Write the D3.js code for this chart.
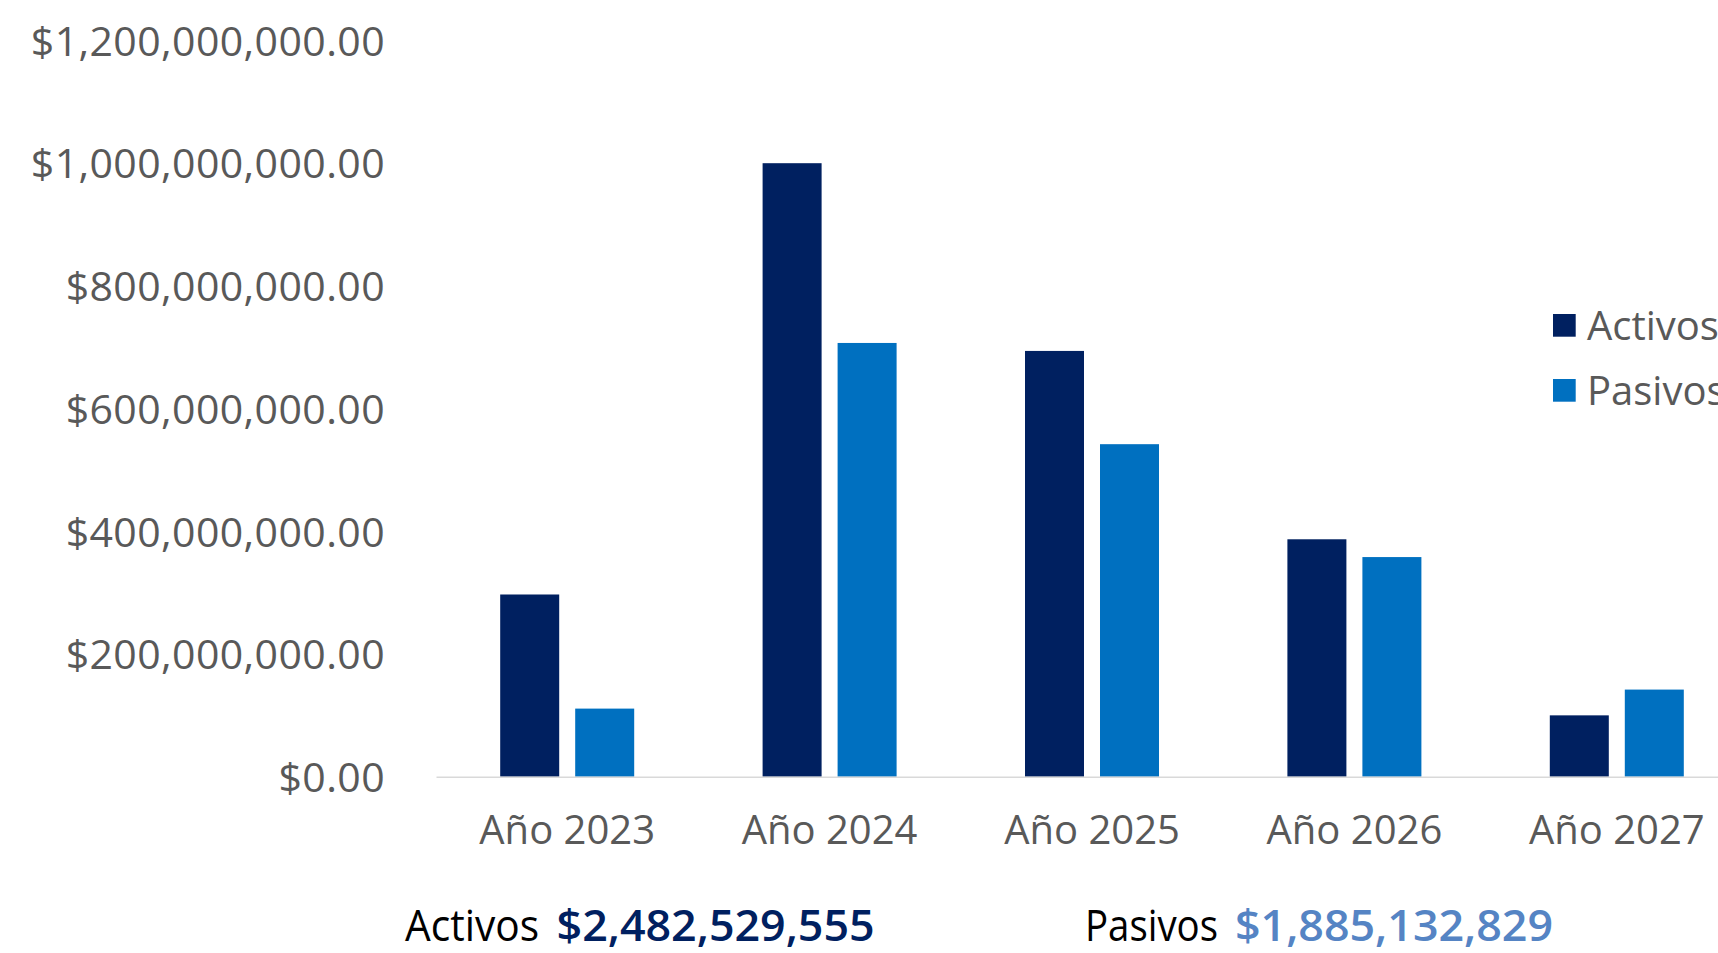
<!DOCTYPE html>
<html>
<head>
<meta charset="utf-8">
<script src="https://cdn.jsdelivr.net/npm/d3@7"></script>
<style>
  html, body { margin: 0; padding: 0; background: #fff; overflow: hidden; }
  svg text { font-family: "Open Sans", "Noto Sans", sans-serif; }
</style>
</head>
<body>
<div id="graph"></div>
<script>
// Values
const years = ["Año 2023", "Año 2024", "Año 2025", "Año 2026", "Año 2027"];
const series = ["Activos", "Pasivos"];
const activos = [297000000, 1000000000, 694000000, 387000000, 100000000];
const pasivos = [111000000, 707000000, 542000000, 358000000, 142000000];
const yTicks = [0, 200000000, 400000000, 600000000, 800000000, 1000000000, 1200000000];
const totalLabels = ["Activos", "Pasivos"];
const totalValues = ["$2,482,529,555", "$1,885,132,829"];

const colors = { Activos: "#002060", Pasivos: "#0070C0" };
const textGray = "#595959";

var width = 1718, height = 953;

// table built from the arrays above
const rows = years.map((yr, i) => ({ year: yr, Activos: activos[i], Pasivos: pasivos[i] }));

var svg = d3.select("#graph")
  .append("svg")
  .attr("width", width)
  .attr("height", height);

// scales
const y = d3.scaleLinear()
  .domain([0, 1200000000])
  .range([776.7, 40.5]);

const x0 = d3.scaleBand()
  .domain(years)
  .range([436, 1748])
  .padding(0);

const groupW = 134;
const x1 = d3.scaleBand()
  .domain(series)
  .range([x0.bandwidth() / 2 - groupW / 2, x0.bandwidth() / 2 + groupW / 2])
  .paddingInner(0.2133)
  .paddingOuter(0);

// y axis labels (no line, no ticks)
var yAxis = svg.append("g")
  .attr("transform", "translate(385,0)")
  .call(d3.axisLeft(y).tickValues(yTicks).tickFormat(d3.format("$,.2f")).tickSize(0).tickPadding(0));
yAxis.select(".domain").remove();
yAxis.selectAll("text")
  .attr("fill", textGray)
  .attr("dy", "0.36em")
  .style("font-size", "41px")
  .style("letter-spacing", "0.4px");

// bars
svg.append("g")
  .selectAll("g")
  .data(rows)
  .enter().append("g")
    .attr("transform", d => "translate(" + x0(d.year) + ",0)")
  .selectAll("rect")
  .data(d => series.map(s => ({ key: s, value: d[s] })))
  .enter().append("rect")
    .attr("x", d => x1(d.key))
    .attr("y", d => y(d.value))
    .attr("width", x1.bandwidth())
    .attr("height", d => y(0) - y(d.value))
    .style("fill", d => colors[d.key]);

// x axis: baseline + year labels
var xAxis = svg.append("g")
  .attr("transform", "translate(0," + y(0) + ")")
  .call(d3.axisBottom(x0).tickSize(0).tickPadding(0));
xAxis.select(".domain")
  .attr("stroke", "#D9D9D9")
  .attr("stroke-width", 1.5);
xAxis.selectAll("text")
  .attr("fill", textGray)
  .attr("y", 67)
  .attr("dy", 0)
  .style("font-size", "40px");

// legend (runs off the right edge like the original)
var legend = svg.append("g")
  .selectAll("g")
  .data(series)
  .enter().append("g")
    .attr("transform", (d, i) => "translate(1553," + (314 + i * 65) + ")");
legend.append("rect")
  .attr("width", 22.7)
  .attr("height", 22.7)
  .style("fill", d => colors[d]);
legend.append("text")
  .attr("x", 34)
  .attr("y", 11.35)
  .attr("dy", "0.36em")
  .attr("fill", textGray)
  .style("font-size", "40px")
  .text(d => d);

// totals under the chart
const totalPos = [
  { lx: 405, lw: 134, vx: 556.6, vw: 318, color: "#002060" },
  { lx: 1085, lw: 133, vx: 1235, vw: 318, color: "#5584C4" }
];
totalLabels.forEach((label, i) => {
  const p = totalPos[i];
  svg.append("text")
    .attr("x", p.lx)
    .attr("y", 941)
    .attr("fill", "#000")
    .attr("textLength", p.lw)
    .attr("lengthAdjust", "spacingAndGlyphs")
    .style("font-size", "44px")
    .text(label);
  svg.append("text")
    .attr("x", p.vx)
    .attr("y", 941)
    .attr("fill", p.color)
    .attr("textLength", p.vw)
    .attr("lengthAdjust", "spacingAndGlyphs")
    .style("font-size", "44px")
    .style("font-weight", "600")
    .text(totalValues[i]);
});
</script>
</body>
</html>
